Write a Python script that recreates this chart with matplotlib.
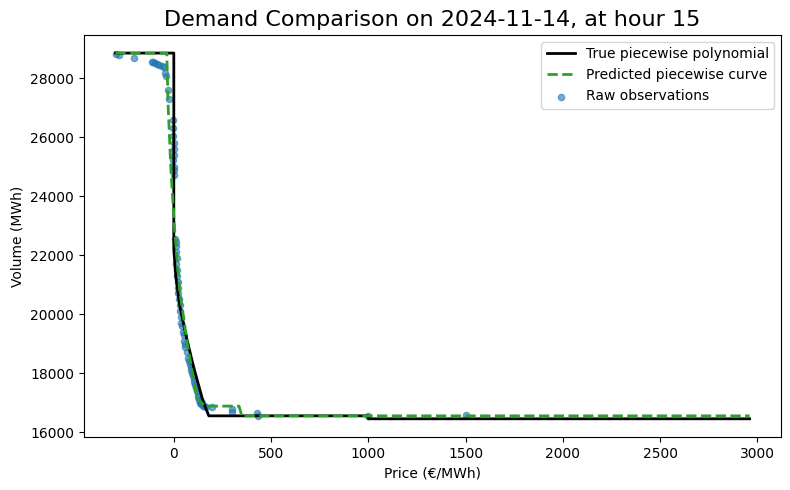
import matplotlib
matplotlib.use("Agg")
import matplotlib.pyplot as plt

# true piecewise polynomial
true_price = [-300, 0, 0, 10, 30, 60, 100, 150, 180, 1000, 1000, 2960]
true_volume = [28850, 28850, 22200, 21300, 20300, 19350, 18250, 17050, 16550, 16550, 16450, 16450]

# predicted piecewise curve
pred_price = [-300, -36, -30, -15, 5, 30, 67, 118, 160, 335, 350, 2960]
pred_volume = [28850, 28850, 27200, 24900, 22800, 20800, 19100, 17160, 16880, 16880, 16550, 16550]

# raw observations
obs_price = [-299, -284, -206, -113, -105, -95, -85, -75, -62, -52, -46, -41, -31, -26,
             -5, -3, -2, 0, -1, 1, -2, 0, 2, 0,
             8, 9, 10, 12, 14, 13, 16, 18, 20, 22, 24, 27,
             30, 33, 36, 38, 42, 46, 50, 54, 57, 60, 66, 72,
             78, 82, 86, 90, 94, 98, 102, 106, 110, 114, 118, 122,
             126, 130, 134, 138, 142, 146, 150, 155, 165, 196,
             299, 300, 428, 433, 1000, 1500]
obs_volume = [28815, 28780, 28680, 28560, 28540, 28500, 28480, 28450, 28420, 28380, 28170, 28070, 27590, 27280,
              26570, 26300, 26050, 25800, 25600, 25400, 25210, 25000, 24870, 24700,
              22560, 22450, 22300, 22100, 21900, 21700, 21500, 21300, 21100, 20900, 20700, 20500,
              20300, 20100, 19900, 19700, 19600, 19400, 19300, 19100, 19000, 18900, 18700, 18500,
              18400, 18300, 18200, 18100, 18000, 17900, 17800, 17700, 17600, 17500, 17400, 17300,
              17200, 17100, 17000, 17050, 16950, 16980, 16900, 16880, 16850, 16850,
              16780, 16680, 16650, 16540, 16540, 16580]

fig, ax = plt.subplots(figsize=(7.9, 4.9), dpi=100)
ax.plot(true_price, true_volume, color="black", linewidth=2, label="True piecewise polynomial")
ax.plot(pred_price, pred_volume, color="tab:green", linestyle="--", linewidth=2, label="Predicted piecewise curve")
ax.scatter(obs_price, obs_volume, color="tab:blue", alpha=0.6, s=20, label="Raw observations")
ax.set_title("Demand Comparison on 2024-11-14, at hour 15", fontsize=16)
ax.set_xlabel("Price (€/MWh)")
ax.set_ylabel("Volume (MWh)")
ax.legend(loc="upper right")
plt.subplots_adjust(left=0.106, right=0.989, top=0.929, bottom=0.108)
plt.savefig("out.png", dpi=100)
